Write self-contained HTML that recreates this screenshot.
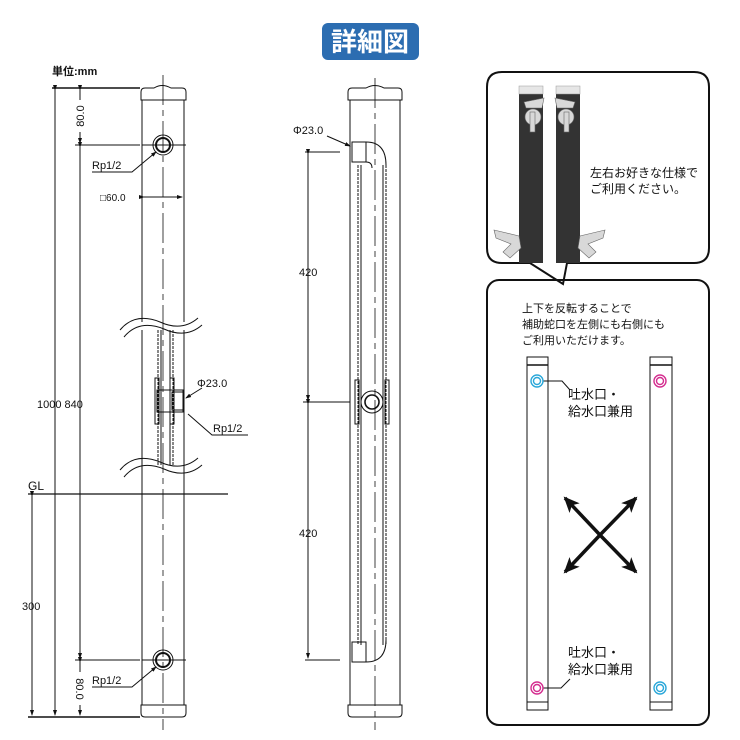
<!DOCTYPE html>
<html><head><meta charset="utf-8"><style>
html,body{margin:0;padding:0;background:#fff;}
svg{display:block;}
text{font-family:"Liberation Sans","Noto Sans CJK JP",sans-serif;fill:#111;}
</style></head><body>
<svg width="740" height="740" viewBox="0 0 740 740" xmlns="http://www.w3.org/2000/svg">
<defs>
<marker id="a" markerWidth="6" markerHeight="6" refX="5" refY="3" orient="auto" markerUnits="userSpaceOnUse"><path d="M0,1 L6,3 L0,5 z" fill="#111"/></marker>
<marker id="A" markerWidth="16" markerHeight="14" refX="14" refY="7" orient="auto" markerUnits="userSpaceOnUse"><path d="M0,0 L16,7 L0,14 L4,7 z" fill="#111"/></marker>
</defs>
<!-- title -->
<rect x="322" y="23" width="97" height="37" rx="6" fill="#2c6db1"/>
<text x="370" y="51" font-size="26" font-weight="bold" text-anchor="middle" style="fill:#fff">詳細図</text>
<text x="52" y="75" font-size="11" font-weight="bold">単位:mm</text>

<g stroke="#111" fill="none" stroke-width="1">
<!-- LEFT POLE -->
<path d="M141,100 L141,92 Q141,88 145,88 L154,88 Q162,83 171,88 L182,88 Q186,88 186,92 L186,100 Z"/>
<line x1="142" y1="100" x2="142" y2="322"/><line x1="184" y1="100" x2="184" y2="322"/>
<line x1="142" y1="470" x2="142" y2="705"/><line x1="184" y1="470" x2="184" y2="705"/>
<path d="M141,705 L186,705 L186,713 Q186,717 182,717 L145,717 Q141,717 141,713 Z"/>
<path d="M120,330 Q135,312 160,322 Q182,332 198,318"/>
<path d="M124,337 Q139,319 164,329 Q186,339 202,325"/>
<path d="M120,470 Q135,452 160,462 Q182,472 198,458"/>
<path d="M124,477 Q139,459 164,469 Q186,479 202,465"/>
<line x1="142" y1="330" x2="142" y2="470"/><line x1="184" y1="330" x2="184" y2="470"/>
<line x1="158" y1="330" x2="158" y2="465" stroke-dasharray="3,1"/><line x1="161" y1="330" x2="161" y2="465"/>
<line x1="170" y1="330" x2="170" y2="465"/><line x1="173" y1="330" x2="173" y2="465" stroke-dasharray="3,1"/>
<rect x="155" y="378" width="4" height="46"/><rect x="170" y="378" width="4" height="46"/>
<rect x="157" y="390" width="26" height="22"/>
<rect x="172" y="392" width="12" height="18"/>
<line x1="163" y1="75" x2="163" y2="730" stroke-dasharray="30,5,6,5" stroke-width="0.8"/>
<circle cx="163" cy="145" r="10"/><circle cx="163" cy="145" r="7" stroke-width="2"/>
<circle cx="163" cy="660" r="10"/><circle cx="163" cy="660" r="7" stroke-width="2"/>
<line x1="142" y1="145" x2="186" y2="145"/><line x1="142" y1="660" x2="186" y2="660"/>
<!-- dims left -->
<line x1="52" y1="88" x2="140" y2="88" stroke-width="1.5"/>
<line x1="75" y1="145" x2="140" y2="145"/>
<line x1="75" y1="660" x2="140" y2="660"/>
<line x1="28" y1="717" x2="140" y2="717" stroke-width="1.5"/>
<line x1="28" y1="494" x2="228" y2="494" stroke-width="1.2"/>
<line x1="55" y1="90" x2="55" y2="715" marker-start="url(#a)" marker-end="url(#a)"/>
<line x1="80" y1="90" x2="80" y2="100" marker-start="url(#a)"/>
<line x1="80" y1="132" x2="80" y2="143" marker-end="url(#a)"/>
<line x1="80" y1="147" x2="80" y2="658" marker-start="url(#a)" marker-end="url(#a)"/>
<line x1="80" y1="662" x2="80" y2="672" marker-start="url(#a)"/>
<line x1="80" y1="705" x2="80" y2="715" marker-end="url(#a)"/>
<line x1="32" y1="496" x2="32" y2="715" marker-start="url(#a)" marker-end="url(#a)"/>
<line x1="144" y1="197" x2="182" y2="197" marker-start="url(#a)" marker-end="url(#a)"/>
<polyline points="92,172 132,172 156,152" marker-end="url(#a)"/>
<polyline points="92,687 132,687 156,667" marker-end="url(#a)"/>
<line x1="202" y1="388" x2="186" y2="398" marker-end="url(#a)"/>
<polyline points="248,435 212,435 188,414"/>

<!-- MIDDLE POLE -->
<path d="M348,100 L348,92 Q348,88 352,88 L366,88 Q375,83 384,88 L398,88 Q402,88 402,92 L402,100 Z"/>
<line x1="350" y1="100" x2="350" y2="705"/><line x1="400" y1="100" x2="400" y2="705"/>
<path d="M348,705 L402,705 L402,713 Q402,717 398,717 L352,717 Q348,717 348,713 Z"/>
<line x1="375" y1="78" x2="375" y2="730" stroke-dasharray="30,5,6,5" stroke-width="0.8"/>
<line x1="358" y1="165" x2="358" y2="645" stroke-dasharray="3,1"/><line x1="361" y1="165" x2="361" y2="645"/>
<line x1="383" y1="165" x2="383" y2="645"/><line x1="386" y1="165" x2="386" y2="645" stroke-dasharray="3,1"/>
<rect x="352" y="142" width="14" height="20"/>
<path d="M366,142 Q386,142 386,165"/><path d="M366,162 Q372,162 372,168"/>
<rect x="352" y="642" width="14" height="20"/>
<path d="M366,662 Q386,662 386,640"/>
<rect x="355" y="380" width="4" height="44"/><rect x="385" y="380" width="4" height="44"/>
<circle cx="372" cy="402" r="11"/><circle cx="372" cy="402" r="7" stroke-width="1.6"/>
<line x1="303" y1="402" x2="350" y2="402"/>
<line x1="305" y1="152" x2="340" y2="152"/>
<line x1="305" y1="660" x2="340" y2="660"/>
<line x1="308" y1="154" x2="308" y2="400" marker-start="url(#a)" marker-end="url(#a)"/>
<line x1="308" y1="404" x2="308" y2="658" marker-start="url(#a)" marker-end="url(#a)"/>
<line x1="327" y1="136" x2="350" y2="146" marker-end="url(#a)"/>
</g>
<g font-size="11">
<text x="0" y="0" transform="translate(84,116) rotate(-90)" text-anchor="middle">80.0</text>
<text x="0" y="0" transform="translate(76,689) rotate(90)" text-anchor="middle">80.0</text>
<text x="92" y="169">Rp1/2</text>
<text x="92" y="684">Rp1/2</text>
<text x="100" y="201" font-size="10">□60.0</text>
<text x="37" y="408">1000 840</text>
<text x="22" y="610">300</text>
<text x="28" y="490" font-size="12">GL</text>
<text x="197" y="387">Φ23.0</text>
<text x="213" y="432">Rp1/2</text>
<text x="293" y="134">Φ23.0</text>
<text x="299" y="276">420</text>
<text x="299" y="537">420</text>
</g>

<!-- RIGHT TOP BOX -->
<path d="M502,72 L694,72 Q709,72 709,87 L709,248 Q709,263 694,263 L567,263 L563,284 L530,263 L502,263 Q487,263 487,248 L487,87 Q487,72 502,72 Z" fill="#fff" stroke="#111" stroke-width="2"/>
<rect x="519" y="87" width="24" height="176" fill="#333"/>
<rect x="556" y="87" width="24" height="176" fill="#333"/>
<rect x="519" y="86" width="24" height="8" fill="#e6e6e6" stroke="#999" stroke-width="0.5"/>
<rect x="556" y="86" width="24" height="8" fill="#e6e6e6" stroke="#999" stroke-width="0.5"/>
<g fill="#d8d8d8" stroke="#666" stroke-width="0.6">
<circle cx="533" cy="117" r="8"/><rect x="530" y="112" width="5" height="20"/><path d="M524,102 L544,98 L542,108 L526,108 Z"/>
<circle cx="566" cy="117" r="8"/><rect x="564" y="112" width="5" height="20"/><path d="M555,98 L575,102 L573,108 L557,108 Z"/>
<path d="M494,230 L519,236 L521,248 L510,258 L503,252 L511,244 L496,238 Z"/>
<path d="M605,230 L580,236 L578,248 L589,258 L596,252 L588,244 L603,238 Z"/>
</g>
<text x="590" y="177" font-size="12">左右お好きな仕様で</text>
<text x="590" y="193" font-size="12">ご利用ください。</text>

<!-- RIGHT BOTTOM BOX -->
<rect x="487" y="280" width="222" height="445" rx="12" fill="none" stroke="#111" stroke-width="2"/>
<g font-size="11">
<text x="522" y="312">上下を反転することで</text>
<text x="522" y="328">補助蛇口を左側にも右側にも</text>
<text x="522" y="344">ご利用いただけます。</text>
</g>
<g fill="none" stroke="#111" stroke-width="1">
<rect x="527" y="357" width="21" height="353"/><line x1="527" y1="365" x2="548" y2="365" stroke-width="1.5"/><line x1="527" y1="702" x2="548" y2="702"/>
<rect x="650" y="357" width="22" height="353"/><line x1="650" y1="365" x2="672" y2="365" stroke-width="1.5"/><line x1="650" y1="702" x2="672" y2="702"/>
<polyline points="543,381 562,381 570,390"/>
<polyline points="543,688 561,688 570,679"/>
</g>
<g fill="none" stroke-width="1.4">
<circle cx="537" cy="381" r="6" stroke="#2aa7d9"/><circle cx="537" cy="381" r="3.5" stroke="#2aa7d9"/>
<circle cx="660" cy="381" r="6" stroke="#d42d8f"/><circle cx="660" cy="381" r="3.5" stroke="#d42d8f"/>
<circle cx="537" cy="688" r="6" stroke="#d42d8f"/><circle cx="537" cy="688" r="3.5" stroke="#d42d8f"/>
<circle cx="660" cy="688" r="6" stroke="#2aa7d9"/><circle cx="660" cy="688" r="3.5" stroke="#2aa7d9"/>
</g>
<g font-size="13">
<text x="568" y="399">吐水口・</text>
<text x="568" y="416">給水口兼用</text>
<text x="568" y="657">吐水口・</text>
<text x="568" y="674">給水口兼用</text>
</g>
<g stroke="#111" stroke-width="3.5">
<line x1="600" y1="535" x2="565" y2="498" marker-end="url(#A)"/>
<line x1="600" y1="535" x2="636" y2="498" marker-end="url(#A)"/>
<line x1="600" y1="535" x2="565" y2="572" marker-end="url(#A)"/>
<line x1="600" y1="535" x2="636" y2="572" marker-end="url(#A)"/>
</g>
</svg>
</body></html>
